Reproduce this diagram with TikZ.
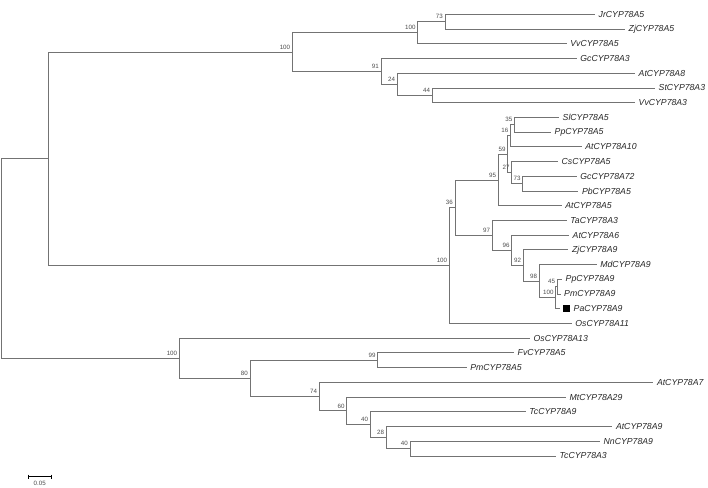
\documentclass[tikz,border=0pt]{standalone}
\usepackage{fontspec}
\setmainfont{Liberation Sans}
\begin{document}
\begin{tikzpicture}[x=1pt,y=-1pt,
  brl/.style={draw=black!55, line width=0.75pt},
  taxon/.style={anchor=west, inner xsep=3.5pt, inner ysep=0pt, font=\fontsize{8.7}{9}\selectfont\itshape, text=black!85},
  bs/.style={anchor=base east, inner sep=0pt, font=\fontsize{6.2}{7}\selectfont, text=black!70, xshift=-2pt, yshift=2.8pt}]
\useasboundingbox (0,0) rectangle (708,487);
% internal nodes
\coordinate (root) at (1.5,258.52);
\coordinate (nA) at (48.7,158.77);
\coordinate (nTop) at (292.3,52.02);
\coordinate (n100a) at (417.7,32.70);
\coordinate (n73a) at (445,21.66);
\coordinate (n91) at (381,71.34);
\coordinate (n24) at (397.3,84.22);
\coordinate (n44) at (432.3,95.26);
\coordinate (nMid) at (449.3,265.52);
\coordinate (n36) at (455,207.62);
\coordinate (n95) at (498.3,179.90);
\coordinate (n59) at (507.7,154.14);
\coordinate (n16) at (510.5,135.74);
\coordinate (n35) at (514.5,124.70);
\coordinate (n27) at (511.7,172.54);
\coordinate (n73b) at (522.7,183.58);
\coordinate (n97) at (492.3,235.33);
\coordinate (n96) at (511.7,250.28);
\coordinate (n92) at (523.3,265.46);
\coordinate (n98) at (539.3,281.10);
\coordinate (n100b) at (555.7,297.66);
\coordinate (n45) at (557.2,286.62);
\coordinate (nLow) at (179.3,358.27);
\coordinate (n80) at (250,378.39);
\coordinate (n99) at (377.7,360.22);
\coordinate (n74) at (319.3,396.56);
\coordinate (n60) at (346.7,410.82);
\coordinate (n40a) at (370.3,424.62);
\coordinate (n28) at (386.3,437.50);
\coordinate (n40b) at (410,448.54);
% leaves
\node[taxon] (jr5) at (595,14.30) {JrCYP78A5};
\node[taxon] (zj5) at (625,29.02) {ZjCYP78A5};
\node[taxon] (vv5) at (566.7,43.74) {VvCYP78A5};
\node[taxon] (gc3) at (576.7,58.46) {GcCYP78A3};
\node[taxon] (at8) at (635,73.18) {AtCYP78A8};
\node[taxon] (st3) at (655,87.90) {StCYP78A3};
\node[taxon] (vv3) at (635,102.62) {VvCYP78A3};
\node[taxon] (sl5) at (559,117.34) {SlCYP78A5};
\node[taxon] (pp5) at (551,132.06) {PpCYP78A5};
\node[taxon] (at10) at (581.7,146.78) {AtCYP78A10};
\node[taxon] (cs5) at (558,161.50) {CsCYP78A5};
\node[taxon] (gc72) at (576.7,176.22) {GcCYP78A72};
\node[taxon] (pb5) at (578.3,190.94) {PbCYP78A5};
\node[taxon] (at5) at (561.7,205.66) {AtCYP78A5};
\node[taxon] (ta3) at (566.7,220.38) {TaCYP78A3};
\node[taxon] (at6) at (569,235.10) {AtCYP78A6};
\node[taxon] (zj9) at (568.3,249.82) {ZjCYP78A9};
\node[taxon] (md9) at (596.7,264.54) {MdCYP78A9};
\node[taxon] (pp9) at (562,279.26) {PpCYP78A9};
\node[taxon] (pm9) at (560.5,293.98) {PmCYP78A9};
\coordinate (paend) at (559.5,308.70);
\node[fill=black, minimum size=6.5pt, inner sep=0pt] (pamark) at (566.7,308.70) {};
\node[taxon] (pa9) at (570,308.70) {PaCYP78A9};
\node[taxon] (os11) at (571.7,323.42) {OsCYP78A11};
\node[taxon] (os13) at (530,338.14) {OsCYP78A13};
\node[taxon] (fv5) at (514,352.86) {FvCYP78A5};
\node[taxon] (pm5) at (466.7,367.58) {PmCYP78A5};
\node[taxon] (at7) at (653.3,382.30) {AtCYP78A7};
\node[taxon] (mt29) at (566,397.02) {MtCYP78A29};
\node[taxon] (tc9) at (525.7,411.74) {TcCYP78A9};
\node[taxon] (at9) at (612.3,426.46) {AtCYP78A9};
\node[taxon] (nn9) at (600,441.18) {NnCYP78A9};
\node[taxon] (tc3) at (556,455.90) {TcCYP78A3};
% branches
\draw[brl] (root) |- (nA);
\draw[brl] (root) |- (nLow);
\draw[brl] (nA) |- (nTop);
\draw[brl] (nA) |- (nMid);
\draw[brl] (nTop) |- (n100a);
\draw[brl] (nTop) |- (n91);
\draw[brl] (n100a) |- (n73a);
\draw[brl] (n100a) |- (vv5.west);
\draw[brl] (n73a) |- (jr5.west);
\draw[brl] (n73a) |- (zj5.west);
\draw[brl] (n91) |- (gc3.west);
\draw[brl] (n91) |- (n24);
\draw[brl] (n24) |- (at8.west);
\draw[brl] (n24) |- (n44);
\draw[brl] (n44) |- (st3.west);
\draw[brl] (n44) |- (vv3.west);
\draw[brl] (nMid) |- (n36);
\draw[brl] (nMid) |- (os11.west);
\draw[brl] (n36) |- (n95);
\draw[brl] (n36) |- (n97);
\draw[brl] (n95) |- (n59);
\draw[brl] (n95) |- (at5.west);
\draw[brl] (n59) |- (n16);
\draw[brl] (n59) |- (n27);
\draw[brl] (n16) |- (n35);
\draw[brl] (n16) |- (at10.west);
\draw[brl] (n35) |- (sl5.west);
\draw[brl] (n35) |- (pp5.west);
\draw[brl] (n27) |- (cs5.west);
\draw[brl] (n27) |- (n73b);
\draw[brl] (n73b) |- (gc72.west);
\draw[brl] (n73b) |- (pb5.west);
\draw[brl] (n97) |- (ta3.west);
\draw[brl] (n97) |- (n96);
\draw[brl] (n96) |- (at6.west);
\draw[brl] (n96) |- (n92);
\draw[brl] (n92) |- (zj9.west);
\draw[brl] (n92) |- (n98);
\draw[brl] (n98) |- (md9.west);
\draw[brl] (n98) |- (n100b);
\draw[brl] (n100b) |- (n45);
\draw[brl] (n100b) |- (paend);
\draw[brl] (n45) |- (pp9.west);
\draw[brl] (n45) |- (pm9.west);
\draw[brl] (nLow) |- (os13.west);
\draw[brl] (nLow) |- (n80);
\draw[brl] (n80) |- (n99);
\draw[brl] (n80) |- (n74);
\draw[brl] (n99) |- (fv5.west);
\draw[brl] (n99) |- (pm5.west);
\draw[brl] (n74) |- (at7.west);
\draw[brl] (n74) |- (n60);
\draw[brl] (n60) |- (mt29.west);
\draw[brl] (n60) |- (n40a);
\draw[brl] (n40a) |- (tc9.west);
\draw[brl] (n40a) |- (n28);
\draw[brl] (n28) |- (at9.west);
\draw[brl] (n28) |- (n40b);
\draw[brl] (n40b) |- (nn9.west);
\draw[brl] (n40b) |- (tc3.west);
% bootstrap values
\node[bs] (b-top) at (nTop) {100};
\node[bs] (b-100a) at (n100a) {100};
\node[bs] (b-73a) at (n73a) {73};
\node[bs] (b-91) at (n91) {91};
\node[bs] (b-24) at (n24) {24};
\node[bs] (b-44) at (n44) {44};
\node[bs] (b-mid) at (nMid) {100};
\node[bs] (b-36) at (n36) {36};
\node[bs] (b-95) at (n95) {95};
\node[bs] (b-59) at (n59) {59};
\node[bs] (b-16) at (n16) {16};
\node[bs] (b-35) at (n35) {35};
\node[bs] (b-27) at (n27) {27};
\node[bs] (b-73b) at (n73b) {73};
\node[bs] (b-97) at (n97) {97};
\node[bs] (b-96) at (n96) {96};
\node[bs] (b-92) at (n92) {92};
\node[bs] (b-98) at (n98) {98};
\node[bs] (b-100b) at (n100b) {100};
\node[bs] (b-45) at (n45) {45};
\node[bs] (b-low) at (nLow) {100};
\node[bs] (b-80) at (n80) {80};
\node[bs] (b-99) at (n99) {99};
\node[bs] (b-74) at (n74) {74};
\node[bs] (b-60) at (n60) {60};
\node[bs] (b-40a) at (n40a) {40};
\node[bs] (b-28) at (n28) {28};
\node[bs] (b-40b) at (n40b) {40};
% scale bar
\coordinate (sb1) at (28.3,476.7);
\coordinate (sb2) at (51,476.7);
\draw[black, line width=1pt] (sb1) -- (sb2);
\draw[black, line width=1pt] ([yshift=2pt]sb1) -- ([yshift=-2pt]sb1);
\draw[black, line width=1pt] ([yshift=2pt]sb2) -- ([yshift=-2pt]sb2);
\node[inner sep=0pt, font=\fontsize{6.2}{7}\selectfont, text=black!70] (sblab) at (39.7,483.7) {0.05};
\end{tikzpicture}
\end{document}
